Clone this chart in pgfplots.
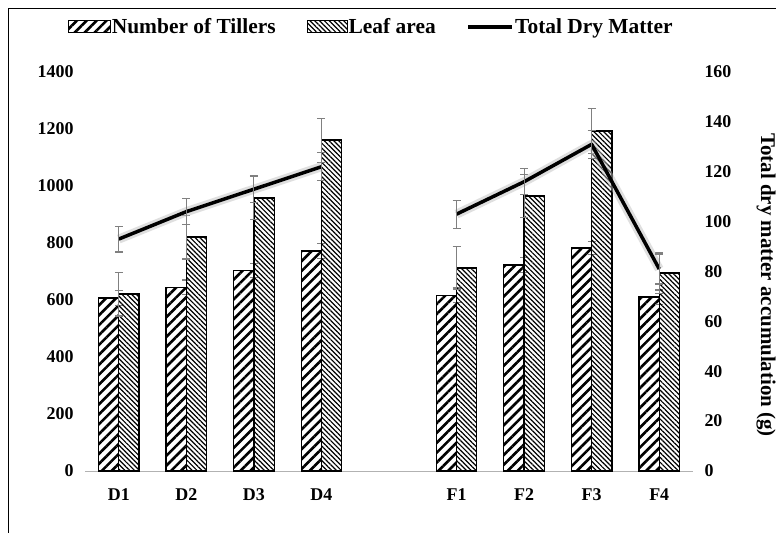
\documentclass[border=0pt]{standalone}
\usepackage{pgfplots}
\pgfplotsset{compat=1.18}
\usepackage{pgfplotstable}
\usetikzlibrary{patterns.meta}
\usepackage{fontspec}
\setmainfont{Liberation Serif}

\pgfplotstableread{
x tillers terr leaf lerr
0 607 25 621 77
1 645 25 821 77
2 703 25 958 75
3 772 25 1161 77
5 617 25 712 75
6 723 25 965 75
7 782 22 1193 80
8 610 25 695 72
}\bardata

\pgfplotstableread{
x tdm err
0 93 5.2
1 104 5.2
2 113 5.5
3 122 5.6
}\tdmD

\pgfplotstableread{
x tdm err
5 103 5.6
6 116 5.2
7 131 5.6
8 81 6
}\tdmF

\tikzset{
  tillpat/.style={draw=black, line width=1.3pt, pattern={Lines[angle=45,distance=7bp,line width=2.6bp]}},
  leafpat/.style={draw=black, line width=1.3pt, pattern={Lines[angle=-45,distance=3.4bp,line width=1.2bp]}},
}

\begin{document}
\begin{tikzpicture}
\useasboundingbox (0,0) rectangle (776bp,533bp);
\draw[black, line width=0.8pt] (8bp,0) -- (8bp,525bp) -- (776bp,525bp);

\begin{axis}[
  at={(85bp,62bp)}, anchor=south west,
  scale only axis, width=608bp, height=399bp,
  xmin=-0.5, xmax=8.5, ymin=0, ymax=1400,
  axis x line*=bottom, axis y line*=left,
  x axis line style={draw=gray!60, line width=0.8pt, -},
  y axis line style={draw=none},
  major tick length=0pt,
  xtick={0,1,2,3,5,6,7,8},
  xticklabels={D1,D2,D3,D4,F1,F2,F3,F4},
  ytick={0,200,...,1400},
  /pgf/number format/assume math mode=true,
  /pgf/number format/1000 sep={},
  tick label style={font=\fontsize{18}{18}\selectfont\bfseries},
  xticklabel style={yshift=-14bp},
  yticklabel style={xshift=-8bp},
  bar width=0.3,
  clip=false,
]
\addplot[ybar, tillpat, bar shift=-0.15,
  error bars/.cd, y dir=both, y explicit,
  error bar style={gray, line width=1.1pt},
  error mark options={rotate=90, gray, mark size=4bp, line width=1.1pt}]
  table[x=x, y=tillers, y error=terr] {\bardata};
\addplot[ybar, leafpat, bar shift=0.15,
  error bars/.cd, y dir=both, y explicit,
  error bar style={gray, line width=1.1pt},
  error mark options={rotate=90, gray, mark size=4bp, line width=1.1pt}]
  table[x=x, y=leaf, y error=lerr] {\bardata};
\end{axis}

\begin{axis}[
  at={(85bp,62bp)}, anchor=south west,
  scale only axis, width=608bp, height=399bp,
  xmin=-0.5, xmax=8.5, ymin=0, ymax=160,
  axis x line=none, axis y line*=right,
  y axis line style={draw=none},
  major tick length=0pt,
  ytick={0,20,...,160},
  /pgf/number format/assume math mode=true,
  tick label style={font=\fontsize{18}{18}\selectfont\bfseries},
  yticklabel style={xshift=8bp},
  clip=false,
  legend style={at={(0.470,1.113)}, anchor=center, draw=none, fill=none,
    font=\fontsize{21.5}{21.5}\selectfont\bfseries, legend columns=3,
    /tikz/every even column/.append style={column sep=30bp},
    inner sep=0pt, nodes={inner sep=1bp}},
]
\addlegendimage{legend image code/.code={\draw[tillpat, line width=1pt] (0bp,-6bp) rectangle (42bp,6bp);}}
\addlegendentry{Number of Tillers}
\addlegendimage{legend image code/.code={\draw[leafpat, line width=1pt] (0bp,-6bp) rectangle (40bp,6bp);}}
\addlegendentry{Leaf area}
\addlegendimage{legend image code/.code={\draw[black, line width=3.5bp] (0bp,0bp) -- (44bp,0bp);}}
\addlegendentry{Total Dry Matter}

\addplot[forget plot, black!25, opacity=0.5, line width=9bp, line join=round] table[x=x, y=tdm] {\tdmD};
\addplot[forget plot, black!25, opacity=0.5, line width=9bp, line join=round] table[x=x, y=tdm] {\tdmF};
\addplot[forget plot, black, line width=3.5bp, line join=round, mark=none,
  error bars/.cd, y dir=both, y explicit,
  error bar style={gray, line width=1.1pt},
  error mark options={rotate=90, gray, mark size=4bp, line width=1.1pt}]
  table[x=x, y=tdm, y error=err] {\tdmD};
\addplot[forget plot, black, line width=3.5bp, line join=round, mark=none,
  error bars/.cd, y dir=both, y explicit,
  error bar style={gray, line width=1.1pt},
  error mark options={rotate=90, gray, mark size=4bp, line width=1.1pt}]
  table[x=x, y=tdm, y error=err] {\tdmF};
\end{axis}

\node[rotate=-90, font=\fontsize{21}{21}\selectfont\bfseries] at (766bp,248bp) {Total dry matter accumulation (g)};
\end{tikzpicture}
\end{document}
